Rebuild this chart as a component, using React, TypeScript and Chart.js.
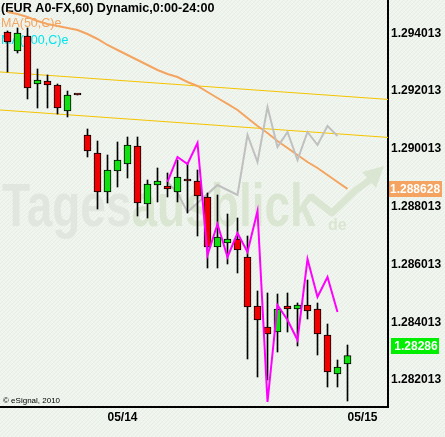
import React, { useEffect, useRef } from 'react';
import { Chart, registerables } from 'chart.js';

Chart.register(...registerables);

// ---- data (hourly EUR/USD bars, index 0 = 05/13 14:00) ----
const OPEN = [1.294058, 1.293401, 1.29392, 1.292259, 1.292362, 1.292224, 1.291324, 1.291913, 1.290494, 1.289871, 1.288522, 1.289248, 1.28949, 1.290113, 1.288106, 1.288764, 1.288729, 1.288522, 1.288902, 1.288902, 1.288349, 1.286619, 1.286757, 1.286895, 1.286273, 1.284577, 1.28385, 1.283677, 1.284577, 1.284473, 1.284611, 1.284473, 1.283574, 1.282224, 1.28257];
const HIGH = [1.294093, 1.294196, 1.294196, 1.292778, 1.29257, 1.292259, 1.292016, 1.291913, 1.290702, 1.290286, 1.289802, 1.290252, 1.290425, 1.290425, 1.288937, 1.289352, 1.289179, 1.289629, 1.289525, 1.289283, 1.288487, 1.288418, 1.28776, 1.287622, 1.286999, 1.285096, 1.285027, 1.284992, 1.285027, 1.284681, 1.285476, 1.284681, 1.283954, 1.282708, 1.283227];
const LOW = [1.292674, 1.293331, 1.29174, 1.291428, 1.291428, 1.291221, 1.291117, 1.291878, 1.289733, 1.287933, 1.288141, 1.288695, 1.289006, 1.287691, 1.287622, 1.288176, 1.288349, 1.288176, 1.287795, 1.286999, 1.285892, 1.285892, 1.28603, 1.285719, 1.282743, 1.28212, 1.282016, 1.282985, 1.283677, 1.283193, 1.284127, 1.282881, 1.281774, 1.281774, 1.28129];
const CLOSE = [1.293712, 1.294023, 1.29212, 1.292397, 1.292224, 1.291428, 1.291878, 1.291878, 1.28994, 1.288522, 1.289283, 1.289629, 1.290148, 1.288141, 1.288798, 1.288902, 1.288625, 1.289041, 1.288902, 1.288383, 1.286619, 1.286965, 1.286895, 1.286515, 1.284542, 1.284093, 1.283608, 1.284473, 1.284473, 1.284611, 1.284404, 1.283608, 1.282293, 1.282466, 1.28286];
const MA50 = [1.29475, 1.294681, 1.294577, 1.294439, 1.294335, 1.294266, 1.294196, 1.294127, 1.293989, 1.293816, 1.293608, 1.293435, 1.293262, 1.293089, 1.292916, 1.292743, 1.292605, 1.292501, 1.292328, 1.292189, 1.291982, 1.291774, 1.291567, 1.291359, 1.291082, 1.290805, 1.290563, 1.290286, 1.290044, 1.289802, 1.28956, 1.289352, 1.28911, 1.288868, 1.288628];
const PROJ_START = 16;
const PROJ_MAGENTA = [1.288868, 1.289733, 1.28949, 1.290217, 1.286342, 1.287414, 1.286273, 1.287103, 1.286446, 1.287864, 1.281255, 1.284611, 1.284093, 1.283401, 1.286203, 1.284888, 1.28558, 1.284369];
const PROJ_GRAY = [1.288868, 1.288487, 1.28783, 1.288141, 1.288452, 1.288764, 1.288591, 1.288418, 1.290494, 1.28956, 1.291463, 1.290079, 1.290598, 1.289629, 1.290598, 1.290148, 1.290805, 1.290459];
const TREND_X = [-1, 39];
const TREND_UPPER = [1.292681, 1.291702];
const TREND_LOWER = [1.291366, 1.290387];
const Y_TICKS = [1.282013, 1.284013, 1.286013, 1.288013, 1.290013, 1.292013, 1.294013];
const X_TICK_VALUES = [10, 34];
const X_TICK_LABELS = ['05/14', '05/15'];
const Y_MIN = 1.281082;
const Y_MAX = 1.295165;
const X_MIN = -0.75;
const X_MAX = 38.05;
const TITLE = '(EUR A0-FX,60) Dynamic,0:00-24:00';
const MA1_LABEL = 'MA(50,C)e';
const MA2_LABEL = 'MA(100,C)e';
const COPYRIGHT = '\u00A9 eSignal, 2010';

const RED = '#f00000';
const GREEN = '#10e010';
const FONT = '"Liberation Sans", Arial, sans-serif';

const decoPlugin = {
  id: 'deco',
  beforeDraw(chart: any) {
    const ctx = chart.ctx as CanvasRenderingContext2D;
    const pc = document.createElement('canvas');
    pc.width = 4;
    pc.height = 4;
    const p = pc.getContext('2d')!;
    p.fillStyle = '#f0f6ef';
    p.fillRect(0, 0, 4, 4);
    p.fillStyle = '#e6eee4';
    for (let i = 0; i < 4; i++) p.fillRect(i, 3 - i, 1, 1);
    const pat = ctx.createPattern(pc, 'repeat')!;
    ctx.save();
    ctx.fillStyle = pat;
    ctx.fillRect(0, 0, chart.width, chart.height);
    ctx.restore();
  },
  beforeDatasetsDraw(chart: any) {
    const ctx = chart.ctx as CanvasRenderingContext2D;
    const ca = chart.chartArea;
    // watermark
    ctx.save();
    ctx.translate(ca.left + 2, 226);
    ctx.scale(1, 1.33);
    ctx.font = `bold 46px ${FONT}`;
    ctx.textBaseline = 'alphabetic';
    ctx.textAlign = 'left';
    ctx.fillStyle = '#e1e6df';
    ctx.fillText('Tages', 0, 0);
    const w = ctx.measureText('Tages').width;
    ctx.fillStyle = '#dae6d2';
    ctx.fillText('ausblick', w, 0);
    ctx.restore();
    ctx.save();
    ctx.fillStyle = '#dae6d2';
    ctx.font = `bold 16px ${FONT}`;
    ctx.fillText('de', 328, 230);
    ctx.strokeStyle = '#dae6d2';
    ctx.lineWidth = 7;
    ctx.lineJoin = 'round';
    ctx.beginPath();
    ctx.moveTo(310, 196);
    ctx.lineTo(332, 213);
    ctx.lineTo(356, 190);
    ctx.lineTo(370, 180);
    ctx.stroke();
    ctx.beginPath();
    ctx.moveTo(384, 166);
    ctx.lineTo(362, 172);
    ctx.lineTo(376, 188);
    ctx.closePath();
    ctx.fill();
    ctx.restore();
    // texts
    ctx.save();
    ctx.textBaseline = 'alphabetic';
    ctx.textAlign = 'left';
    ctx.fillStyle = '#000';
    ctx.font = `bold 12.6px ${FONT}`;
    ctx.fillText(TITLE, 1, 12);
    ctx.font = `12.5px ${FONT}`;
    ctx.fillStyle = '#f4a460';
    ctx.fillText(MA1_LABEL, 1, 27);
    ctx.fillStyle = '#00e5ee';
    ctx.fillText(MA2_LABEL, 1, 44);
    ctx.fillStyle = '#000';
    ctx.font = `8px ${FONT}`;
    ctx.fillText(COPYRIGHT, 3, 403);
    ctx.restore();
  },
  afterDraw(chart: any) {
    const ctx = chart.ctx as CanvasRenderingContext2D;
    const ca = chart.chartArea;
    const yS = chart.scales.y;
    ctx.save();
    ctx.font = `bold 12px ${FONT}`;
    ctx.textBaseline = 'middle';
    const maV = MA50[MA50.length - 1];
    const yMa = Math.round(yS.getPixelForValue(maV));
    ctx.fillStyle = '#f4a460';
    ctx.fillRect(ca.right + 1, yMa - 8, 53, 16);
    ctx.fillStyle = '#fff';
    ctx.textAlign = 'left';
    ctx.fillText(maV.toFixed(6), ca.right + 2, yMa + 0.5);
    const cV = CLOSE[CLOSE.length - 1];
    const yC = Math.round(yS.getPixelForValue(cV) - 9.5);
    ctx.fillStyle = '#00ee00';
    ctx.fillRect(ca.right + 3, yC - 8, 48, 16);
    ctx.fillStyle = '#fff';
    ctx.textAlign = 'center';
    ctx.fillText(String(cV), ca.right + 28, yC + 0.5);
    ctx.restore();
  },
};

export default function App() {
  const ref = useRef<HTMLCanvasElement>(null);
  useEffect(() => {
    document.body.style.margin = '0';
    const canvas = ref.current!;
    const idx = OPEN.map((_, i) => i);
    const bodyColors = idx.map((i) => (CLOSE[i] > OPEN[i] ? GREEN : RED));
    const chart = new Chart(canvas, {
      type: 'bar',
      data: {
        datasets: [
          {
            type: 'line',
            data: PROJ_MAGENTA.map((v, k) => ({ x: PROJ_START + k, y: v })),
            borderColor: '#ff00ff',
            borderWidth: 2,
            pointRadius: 0,
            tension: 0,
            order: 0,
          } as any,
          {
            type: 'bar',
            data: idx.map((i) => ({ x: i, y: [OPEN[i], CLOSE[i]] })),
            backgroundColor: bodyColors,
            borderColor: '#000',
            borderWidth: 1,
            borderSkipped: false,
            barThickness: 7,
            minBarLength: 2,
            grouped: false,
            order: 1,
          } as any,
          {
            type: 'bar',
            data: idx.map((i) => ({ x: i, y: [LOW[i], HIGH[i]] })),
            backgroundColor: '#000',
            borderWidth: 0,
            barThickness: 1,
            grouped: false,
            order: 2,
          } as any,
          {
            type: 'line',
            data: PROJ_GRAY.map((v, k) => ({ x: PROJ_START + k, y: v })),
            borderColor: '#c0c0c0',
            borderWidth: 2,
            pointRadius: 0,
            tension: 0,
            order: 3,
          } as any,
          {
            type: 'line',
            data: MA50.map((v, i) => ({ x: i, y: v })),
            borderColor: '#f4a460',
            borderWidth: 2,
            pointRadius: 0,
            tension: 0,
            order: 4,
          } as any,
          {
            type: 'line',
            data: TREND_X.map((x, k) => ({ x, y: TREND_UPPER[k] })),
            borderColor: '#f5c400',
            borderWidth: 1,
            pointRadius: 0,
            order: 5,
          } as any,
          {
            type: 'line',
            data: TREND_X.map((x, k) => ({ x, y: TREND_LOWER[k] })),
            borderColor: '#f5c400',
            borderWidth: 1,
            pointRadius: 0,
            order: 5,
          } as any,
        ],
      },
      options: {
        responsive: false,
        animation: false,
        events: [],
        layout: { padding: 0 },
        plugins: { legend: { display: false }, tooltip: { enabled: false }, title: { display: false } },
        scales: {
          x: {
            type: 'linear',
            min: X_MIN,
            max: X_MAX,
            offset: false,
            grid: { display: false, drawTicks: false },
            border: { display: true, color: '#000', width: 2 },
            ticks: {
              autoSkip: false,
              maxRotation: 0,
              align: 'start',
              padding: 3,
              color: '#000',
              font: { family: FONT, size: 12, weight: 'bold' },
              callback: (v: any) => {
                const k = X_TICK_VALUES.indexOf(Number(v));
                return k >= 0 ? X_TICK_LABELS[k] : '';
              },
            },
            afterBuildTicks: (s: any) => {
              s.ticks = X_TICK_VALUES.map((value) => ({ value }));
            },
            afterFit: (s: any) => {
              s.height = 30;
              s.paddingLeft = 0;
              s.paddingRight = 0;
              s.paddingTop = 0;
              s.paddingBottom = 0;
            },
          } as any,
          y: {
            type: 'linear',
            position: 'right',
            min: Y_MIN,
            max: Y_MAX,
            beginAtZero: false,
            grid: { display: false, drawTicks: false },
            border: { display: true, color: '#000', width: 2 },
            ticks: {
              padding: 3,
              color: '#000',
              font: { family: FONT, size: 12, weight: 'bold' },
              callback: (v: any) => Number(v).toFixed(6),
            },
            afterBuildTicks: (s: any) => {
              s.ticks = Y_TICKS.map((value) => ({ value }));
            },
            afterFit: (s: any) => {
              s.width = 57;
              s.paddingLeft = 0;
              s.paddingRight = 0;
              s.paddingTop = 0;
              s.paddingBottom = 0;
            },
          } as any,
        },
      } as any,
      plugins: [decoPlugin],
    });
    return () => chart.destroy();
  }, []);
  return <canvas ref={ref} width={445} height={437} style={{ display: 'block', width: 445, height: 437 }} />;
}
